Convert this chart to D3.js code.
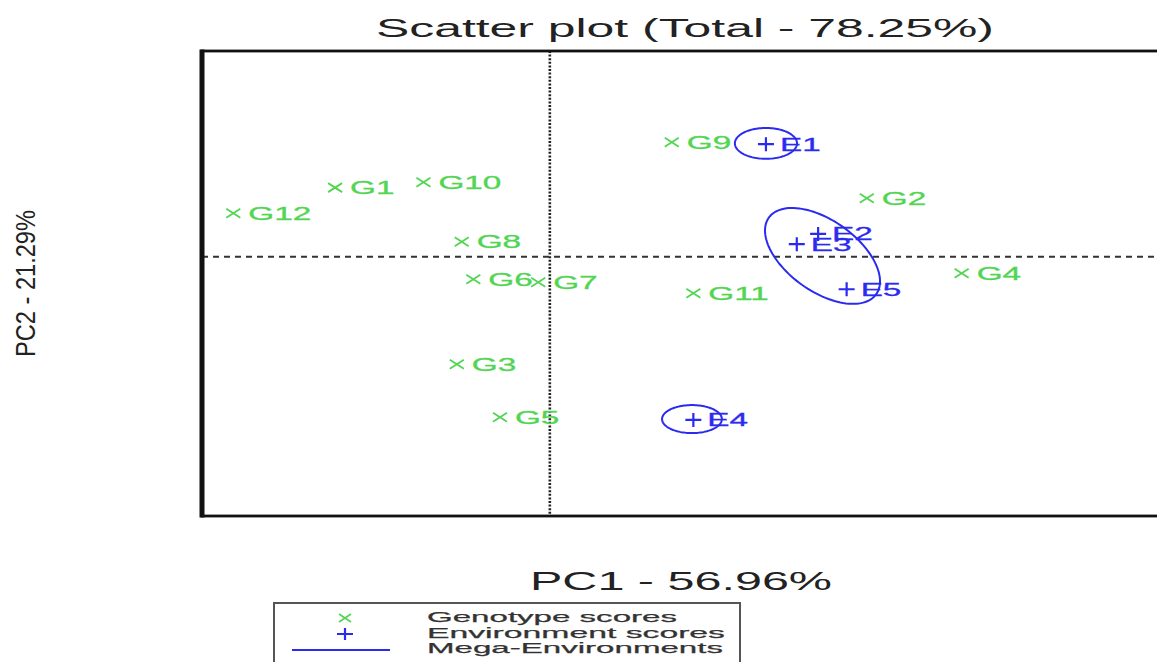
<!DOCTYPE html>
<html>
<head>
<meta charset="utf-8">
<script src="https://cdn.jsdelivr.net/npm/d3@7"></script>
<style>
  body { margin: 0; background: #fff; }
  svg { display: block; font-family: "Liberation Sans", Arial, sans-serif; }
</style>
</head>
<body>
<div id="chart"></div>
<script>
// scores (PC1, PC2)
var genotypes = ["G1", "G2", "G3", "G4", "G5", "G6", "G7", "G8", "G9", "G10", "G11", "G12"];
var genoPC1 = [-0.926, 1.367, -0.401, 1.776, -0.215, -0.330, -0.050, -0.380, 0.526, -0.545, 0.619, -1.365];
var genoPC2 = [0.336, 0.284, -0.522, -0.080, -0.780, -0.109, -0.124, 0.073, 0.556, 0.362, -0.177, 0.211];

var environments = ["E1", "E2", "E3", "E4", "E5"];
var envPC1 = [0.932, 1.157, 1.065, 0.619, 1.280];
var envPC2 = [0.547, 0.111, 0.061, -0.793, -0.158];

// mega-environment ellipses: centre, spread on each axis, correlation
var megaPC1 = [0.932, 1.176, 0.613];
var megaPC2 = [0.551, 0.004, -0.789];
var megaSd1 = [0.134, 0.248, 0.129];
var megaSd2 = [0.075, 0.233, 0.068];
var megaRho = [0, -0.53, 0];

var pc1Domain = [-1.5, 2.64];
var pc2Domain = [-1.26, 1.0];

var titleText = "Scatter plot (Total - 78.25%)";
var xLabel = "PC1 - 56.96%";
var yLabel = "PC2 - 21.29%";
var legendLabels = ["Genotype scores", "Environment scores", "Mega-Environments"];

var width = 1157, height = 662;
var plot = { left: 202, right: 1162, top: 51, bottom: 516 };
var green = "#52d552", blue = "#2b2bf0";
var stretch = 1.8; // labels in the picture are widened

var svg = d3.select('#chart').append('svg')
  .attr('width', width)
  .attr('height', height);

var x = d3.scaleLinear().domain(pc1Domain).range([plot.left, plot.right]);
var y = d3.scaleLinear().domain(pc2Domain).range([plot.bottom, plot.top]);

// title
svg.append('text')
  .attr('x', 685).attr('y', 37)
  .attr('text-anchor', 'middle')
  .attr('font-size', 25)
  .attr('fill', '#222')
  .attr('textLength', 618)
  .attr('lengthAdjust', 'spacingAndGlyphs')
  .text(titleText);

// axis titles
svg.append('text')
  .attr('x', 681).attr('y', 590)
  .attr('text-anchor', 'middle')
  .attr('font-size', 25)
  .attr('fill', '#222')
  .attr('textLength', 302)
  .attr('lengthAdjust', 'spacingAndGlyphs')
  .text(xLabel);

svg.append('text')
  .attr('transform', 'translate(35,' + ((plot.top + plot.bottom) / 2) + ') rotate(-90) scale(1,1.12)')
  .attr('text-anchor', 'middle')
  .attr('font-size', 25)
  .attr('fill', '#222')
  .attr('textLength', 147)
  .attr('lengthAdjust', 'spacingAndGlyphs')
  .text(yLabel);

// origin lines
svg.append('line')
  .attr('x1', x(0)).attr('x2', x(0))
  .attr('y1', plot.top).attr('y2', plot.bottom)
  .attr('stroke', '#222').attr('stroke-width', 2.6)
  .attr('stroke-dasharray', '2,1.6');

svg.append('line')
  .attr('x1', plot.left).attr('x2', plot.right)
  .attr('y1', y(0)).attr('y2', y(0))
  .attr('stroke', '#333').attr('stroke-width', 2)
  .attr('stroke-dasharray', '6,5');

// mega-environment ellipses
var ellipseLine = d3.line()
  .x(function(d){ return x(d[0]); })
  .y(function(d){ return y(d[1]); })
  .curve(d3.curveLinearClosed);

megaPC1.forEach(function(cx, i){
  var pts = d3.range(0, 360, 3).map(function(deg){
    var t = deg * Math.PI / 180;
    var r = megaRho[i];
    return [cx + megaSd1[i] * Math.cos(t),
            megaPC2[i] + megaSd2[i] * (r * Math.cos(t) + Math.sqrt(1 - r * r) * Math.sin(t))];
  });
  svg.append('path')
    .attr('d', ellipseLine(pts))
    .attr('fill', 'none')
    .attr('stroke', blue)
    .attr('stroke-width', 2);
});

// genotype markers and labels
var genoG = svg.append('g').attr('class', 'genotypes');
genotypes.forEach(function(name, i){
  var px = x(genoPC1[i]), py = y(genoPC2[i]);
  genoG.append('path')
    .attr('d', 'M' + (px - 7) + ',' + (py - 4.5) + 'L' + (px + 7) + ',' + (py + 4.5) +
               'M' + (px - 7) + ',' + (py + 4.5) + 'L' + (px + 7) + ',' + (py - 4.5))
    .attr('stroke', green).attr('stroke-width', 1.8);
  genoG.append('text')
    .attr('transform', 'translate(' + (px + 15) + ',' + (py + 6.5) + ') scale(' + stretch + ',1)')
    .attr('font-size', 18.5)
    .attr('fill', green)
    .attr('stroke', green).attr('stroke-width', 0.3)
    .text(name);
});

// environment markers and labels
var envG = svg.append('g').attr('class', 'environments');
environments.forEach(function(name, i){
  var px = x(envPC1[i]), py = y(envPC2[i]);
  envG.append('path')
    .attr('d', 'M' + (px - 8) + ',' + py + 'H' + (px + 8) + 'M' + px + ',' + (py - 7) + 'V' + (py + 7))
    .attr('stroke', blue).attr('stroke-width', 2.2);
  envG.append('text')
    .attr('transform', 'translate(' + (px + 14) + ',' + (py + 6.5) + ') scale(' + stretch + ',1)')
    .attr('font-size', 18.5)
    .attr('fill', blue)
    .attr('stroke', blue).attr('stroke-width', 0.3)
    .text(name);
});

// frame
svg.append('rect')
  .attr('x', plot.left).attr('y', plot.top)
  .attr('width', plot.right - plot.left)
  .attr('height', plot.bottom - plot.top)
  .attr('fill', 'none')
  .attr('stroke', '#111').attr('stroke-width', 2.8);
svg.append('line')
  .attr('x1', plot.left).attr('x2', plot.left)
  .attr('y1', plot.top - 1.4).attr('y2', plot.bottom + 1.4)
  .attr('stroke', '#111').attr('stroke-width', 5);

// legend
var legend = svg.append('g').attr('class', 'legend');
legend.append('rect')
  .attr('x', 274).attr('y', 603)
  .attr('width', 466).attr('height', 80)
  .attr('fill', '#fff')
  .attr('stroke', '#555').attr('stroke-width', 2);

var legendLengths = [250, 298, 296];
legendLabels.forEach(function(label, i){
  legend.append('text')
    .attr('x', 427).attr('y', 622 + i * 15.5)
    .attr('font-size', 15.5)
    .attr('fill', '#333')
    .attr('stroke', '#333').attr('stroke-width', 0.25)
    .attr('textLength', legendLengths[i])
    .attr('lengthAdjust', 'spacingAndGlyphs')
    .text(label);
});
legend.append('path')
  .attr('d', 'M339,614L351,622M339,622L351,614')
  .attr('stroke', green).attr('stroke-width', 1.6);
legend.append('path')
  .attr('d', 'M337,634H353M345,628V640')
  .attr('stroke', blue).attr('stroke-width', 2.2);
legend.append('line')
  .attr('x1', 292).attr('x2', 390)
  .attr('y1', 650).attr('y2', 650)
  .attr('stroke', blue).attr('stroke-width', 2);
</script>
</body>
</html>
